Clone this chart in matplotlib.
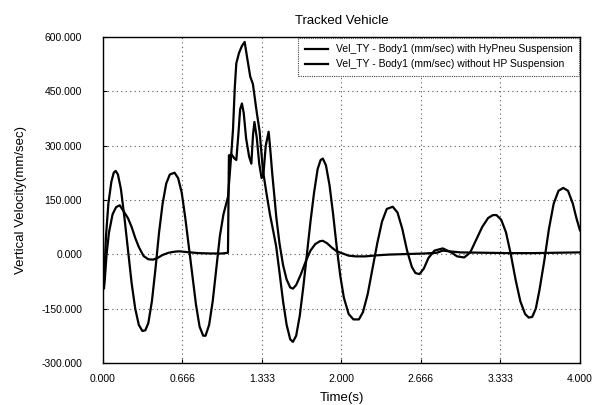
import matplotlib
matplotlib.use("Agg")
from matplotlib import pyplot as plt

plt.rcParams['font.family'] = ['Liberation Sans', 'DejaVu Sans']

# Vertical velocity of Body1 (time in s, mm/sec)
t_without = [0.000, 0.010, 0.025, 0.045, 0.070, 0.090, 0.106, 0.125, 0.150, 0.180,
             0.210, 0.240, 0.270, 0.300, 0.330, 0.355, 0.380, 0.410, 0.440, 0.470,
             0.500, 0.530, 0.560, 0.600, 0.630, 0.660, 0.690, 0.720, 0.750, 0.780,
             0.810, 0.840, 0.860, 0.890, 0.920, 0.950, 0.980, 1.010, 1.048, 1.070,
             1.090, 1.105, 1.118, 1.140, 1.165, 1.188, 1.210, 1.235, 1.257, 1.290,
             1.313, 1.341, 1.370, 1.400, 1.430, 1.453, 1.480, 1.510, 1.540, 1.570,
             1.593, 1.620, 1.650, 1.680, 1.710, 1.740, 1.770, 1.800, 1.825, 1.844,
             1.870, 1.900, 1.930, 1.960, 1.990, 2.020, 2.060, 2.100, 2.146, 2.180,
             2.220, 2.260, 2.300, 2.340, 2.380, 2.430, 2.470, 2.510, 2.550, 2.590,
             2.620, 2.654, 2.690, 2.730, 2.780, 2.850, 2.920, 2.970, 3.030, 3.080,
             3.130, 3.180, 3.230, 3.270, 3.300, 3.340, 3.380, 3.420, 3.460, 3.500,
             3.540, 3.570, 3.600, 3.630, 3.660, 3.700, 3.740, 3.780, 3.820, 3.860,
             3.900, 3.940, 3.970, 4.000]
v_without = [-90, -60, 50, 140, 200, 225, 230, 220, 180, 100,
             10, -80, -150, -195, -212, -210, -190, -130, -40, 60,
             140, 195, 220, 225, 210, 170, 100, 20, -60, -140,
             -200, -225, -225, -195, -130, -40, 50, 110, 158, 251,
             343, 460, 527, 555, 575, 586, 540, 490, 470, 390,
             340, 232, 170, 110, 60, 20, -50, -130, -195, -235,
             -242, -225, -170, -90, 0, 90, 170, 235, 260, 264,
             245, 190, 110, 20, -60, -120, -165, -180, -180, -160,
             -110, -40, 30, 90, 125, 131, 115, 70, 10, -35,
             -52, -55, -40, -10, 10, 16, 5, -6, -9, 5,
             40, 75, 100, 108, 108, 95, 60, 0, -70, -130,
             -165, -175, -173, -150, -100, -20, 70, 140, 175, 183,
             175, 140, 100, 66]

t_with = [0.000, 0.008, 0.015, 0.030, 0.050, 0.080, 0.110, 0.140, 0.170, 0.210,
          0.240, 0.270, 0.300, 0.340, 0.380, 0.420, 0.460, 0.500, 0.550, 0.600,
          0.640, 0.700, 0.800, 0.900, 1.000, 1.048, 1.056, 1.080, 1.100, 1.118,
          1.135, 1.150, 1.165, 1.180, 1.200, 1.225, 1.244, 1.258, 1.270, 1.290,
          1.310, 1.330, 1.345, 1.365, 1.389, 1.400, 1.420, 1.440, 1.453, 1.480,
          1.510, 1.540, 1.570, 1.593, 1.620, 1.660, 1.700, 1.740, 1.780, 1.820,
          1.844, 1.880, 1.920, 1.960, 2.010, 2.060, 2.120, 2.200, 2.300, 2.400,
          2.500, 2.600, 2.700, 2.800, 2.850, 2.900, 3.000, 3.200, 3.400, 3.600,
          3.800, 4.000]
v_with = [-90, -95, -70, 0, 60, 110, 130, 135, 120, 99,
          75, 45, 20, -5, -14, -15, -10, -2, 4, 7,
          8, 6, 3, 2, 2, 4, 273, 275, 265, 260,
          330, 400, 416, 390, 320, 270, 250, 330, 365, 320,
          250, 210, 220, 300, 338, 300, 220, 150, 103, 30,
          -30, -70, -92, -95, -85, -55, -20, 10, 28, 36,
          37, 30, 18, 8, 2, -4, -6, -6, -3, -1,
          0, 1, 2, 4, 10, 8, 5, 4, 3, 3,
          4, 5]

x_ticks = [0.0, 0.666, 1.333, 2.0, 2.666, 3.333, 4.0]
x_tick_labels = ['0.000', '0.666', '1.333', '2.000', '2.666', '3.333', '4.000']
y_ticks = [-300, -150, 0, 150, 300, 450, 600]
y_tick_labels = ['-300.000', '-150.000', '0.000', '150.000', '300.000', '450.000', '600.000']

fig = plt.figure(figsize=(6.06, 4.05), dpi=100)
ax = fig.add_axes([0.170, 0.104, 0.787, 0.805])

ax.plot(t_with, v_with, color='black', lw=1.6,
        label='Vel_TY - Body1 (mm/sec) with HyPneu Suspension')
ax.plot(t_without, v_without, color='black', lw=1.6,
        label='Vel_TY - Body1 (mm/sec) without HP Suspension')

ax.set_xlim(0, 4)
ax.set_ylim(-300, 600)
ax.set_xticks(x_ticks)
ax.set_xticklabels(x_tick_labels)
ax.set_yticks(y_ticks)
ax.set_yticklabels(y_tick_labels)
ax.tick_params(direction='in', length=3, labelsize=7.5)
ax.tick_params(axis='x', pad=8)
ax.tick_params(axis='y', pad=15)
ax.grid(True, color='#555555', linestyle=(0, (1, 3)), linewidth=0.8)
for s in ax.spines.values():
    s.set_linewidth(1.0)

ax.set_title('Tracked Vehicle', fontsize=9.5, pad=9)
ax.set_xlabel('Time(s)', fontsize=9.5, labelpad=6)
ax.set_ylabel('Vertical Velocity(mm/sec)', fontsize=9.5, labelpad=10)

leg = ax.legend(loc='upper right', fontsize=7.5, handlelength=2.2,
                borderaxespad=0.1, fancybox=False, framealpha=1,
                edgecolor='#444444', borderpad=0.6, labelspacing=0.5)
leg.get_frame().set_linestyle((0, (1, 1)))
leg.get_frame().set_linewidth(0.8)

fig.savefig('out.png', dpi=100)
